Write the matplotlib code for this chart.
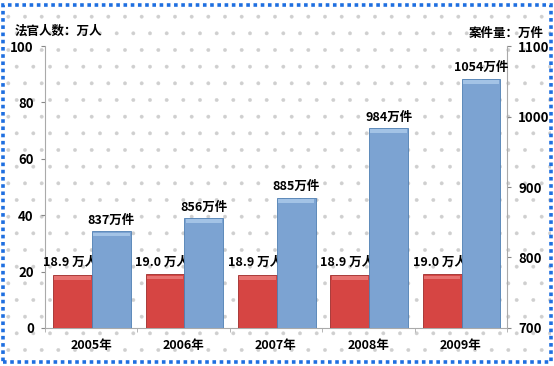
import matplotlib.pyplot as plt
from matplotlib.patches import Rectangle
import numpy as np

plt.rcParams['font.family'] = ['Noto Sans CJK SC', 'DejaVu Sans']
plt.rcParams['hatch.linewidth'] = 0.3

years = ['2005年', '2006年', '2007年', '2008年', '2009年']
judges = [18.9, 19.0, 18.9, 18.9, 19.0]     # 万人
cases = [837, 856, 885, 984, 1054]           # 万件

fig = plt.figure(figsize=(5.54, 3.66), dpi=100)
fig.patch.set_facecolor('white')

# dotted background + blue dotted frame
bg = Rectangle((0.005, 0.01), 0.99, 0.975, transform=fig.transFigure,
               facecolor='white', edgecolor='#cfcfcf', hatch='.', lw=0, zorder=-10)
fig.patches.append(bg)
frame = Rectangle((0.005, 0.01), 0.99, 0.975, transform=fig.transFigure,
                  facecolor='none', edgecolor='#1f6fe0', lw=2.6, ls=(0, (1, 1)), zorder=10)
fig.patches.append(frame)

ax = fig.add_axes([0.081, 0.104, 0.834, 0.770])
ax.patch.set_alpha(0)
ax2 = ax.twinx()

x = np.arange(len(years))
w = 0.42

ax.bar(x - 0.2, judges, w, color='#d64543', edgecolor='#9e2b2a', lw=0.6, zorder=3)
ax2.bar(x + 0.22, [c - 700 for c in cases], w, bottom=700, color='#7ca3d2',
        edgecolor='#4f7fb3', lw=0.6, zorder=3)
# bevel highlight on the top of each bar
ax.bar(x - 0.2, [1.4] * 5, w * 0.94, bottom=[j - 1.8 for j in judges],
       color='#e77270', lw=0, zorder=4)
ax2.bar(x + 0.22, [5.6] * 5, w * 0.94, bottom=[c - 7.2 for c in cases],
        color='#a3c3e6', lw=0, zorder=4)

ax.set_xlim(-0.5, 4.5)
ax.set_ylim(0, 100)
ax2.set_ylim(700, 1100)
ax.set_yticks(range(0, 101, 20))
ax2.set_yticks(range(700, 1101, 100))
ax.set_xticks(x)
ax.set_xticklabels(years)
ax.set_xticks(np.arange(-0.5, 5, 1), minor=True)

for a in (ax, ax2):
    for s in a.spines.values():
        s.set_visible(False)
    a.tick_params(axis='y', length=3, color='#888888', labelsize=9.5, pad=5)
    for lab in a.get_yticklabels():
        lab.set_fontweight('bold')
ax.spines['left'].set_visible(True)
ax.spines['left'].set_color('#aaaaaa')
ax.spines['bottom'].set_visible(True)
ax.spines['bottom'].set_color('#aaaaaa')
ax2.spines['right'].set_visible(True)
ax2.spines['right'].set_color('#aaaaaa')
ax.tick_params(axis='x', which='major', length=0, labelsize=9, pad=8)
ax.tick_params(axis='x', which='minor', length=3, color='#aaaaaa')
for lab in ax.get_xticklabels():
    lab.set_fontweight('bold')

for i in range(len(years)):
    ax.text(x[i] - 0.23, judges[i] + 2, f'{judges[i]:.1f} 万人', ha='center', va='bottom',
            fontsize=9, fontweight='bold', zorder=5)
    ax2.text(x[i] + 0.22, cases[i] + 6, f'{cases[i]}万件', ha='center', va='bottom',
             fontsize=9, fontweight='bold', zorder=5)

fig.text(0.027, 0.915, '法官人数：万人', fontsize=9, fontweight='bold', va='center')
fig.text(0.982, 0.908, '案件量：万件', fontsize=9, fontweight='bold', va='center', ha='right')

fig.savefig('out.png', dpi=100)
